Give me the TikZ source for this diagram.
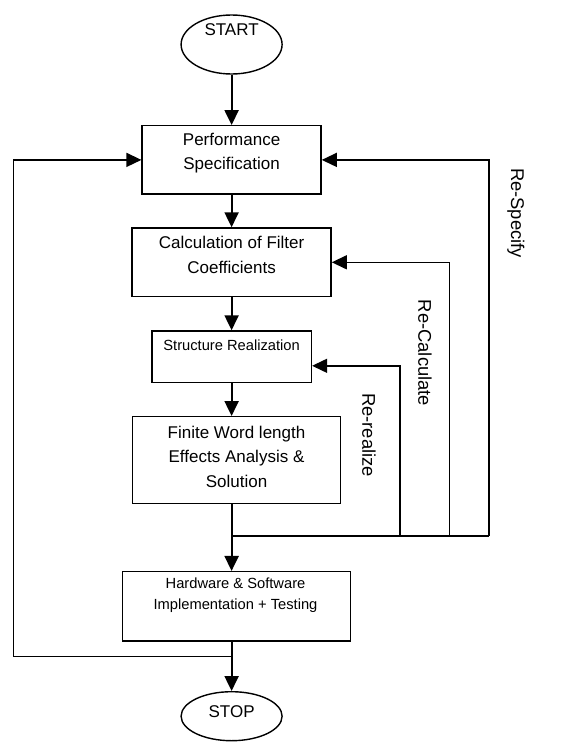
\documentclass[tikz,border=0pt]{standalone}
\usepackage{fontspec}
\setmainfont{Liberation Sans}
\usetikzlibrary{arrows.meta,shapes.geometric,calc}
\begin{document}
\begin{tikzpicture}[x=1pt,y=-1pt,
  box/.style={draw,line width=1.4pt,inner sep=0pt,rectangle},
  oval/.style={draw,line width=1.4pt,inner sep=0pt,ellipse},
  big/.style={font=\fontsize{17}{24.5}\selectfont,align=center,inner sep=0pt},
  small/.style={font=\fontsize{14.7}{21}\selectfont,align=center,inner sep=0pt},
  side/.style={font=\fontsize{18.4}{22}\selectfont,rotate=-90,inner sep=0pt},
  flow/.style={line width=2.2pt,-{Triangle[length=15pt,width=14pt]}},
  fb/.style={line width=1.4pt},
  fba/.style={line width=1.4pt,-{Triangle[length=15pt,width=14pt]}}]
\useasboundingbox (0,0) rectangle (565,742);
% shapes
\node[oval,minimum width=101pt,minimum height=59pt] (start) at (231.6,44.5) {};
\node[box,minimum width=179pt,minimum height=68.3pt] (perf) at (231.6,159.9) {};
\node[box,minimum width=199pt,minimum height=68.7pt] (calc) at (231.6,262.3) {};
\node[box,minimum width=159.6pt,minimum height=51.7pt] (struct) at (231.6,356.8) {};
\node[box,minimum width=208.4pt,minimum height=86.6pt] (fin) at (236.5,460) {};
\node[box,minimum width=228.4pt,minimum height=69.3pt] (hw) at (236.5,606.3) {};
\node[oval,minimum width=101pt,minimum height=49pt] (stop) at (231.6,716.2) {};
% texts
\node[big] (startT) at (231.6,29.5) {START};
\node[big] (perfT) at (231.6,153) {Performance\\Specification};
\node[big] (calcT) at (231.6,255) {Calculation of Filter\\Coefficients};
\node[small] (structT) at (231.6,345) {Structure Realization};
\node[big] (finT) at (236.5,456.7) {Finite Word length\\Effects Analysis \&\\Solution};
\node[small] (hwT) at (235.5,595.5) {Hardware \& Software\\Implementation + Testing};
\node[big] (stopT) at (231.6,712) {STOP};
\node[side] (lSpec) at (516,213) {Re-Specify};
\node[side] (lCalc) at (425,353) {Re-Calculate};
\node[side] (lReal) at (369,435) {Re-realize};
% junctions
\coordinate (j1) at (231.6,536);
\coordinate (j2) at (231.6,656.7);
\coordinate (c1) at (400,536);
\coordinate (c2) at (449.3,536);
\coordinate (c3) at (489,536);
\coordinate (c4) at (13.3,656.7);
\coordinate (sIn) at ([yshift=-9pt]struct.east);
% main flow
\draw[flow] (start) -- (perf);
\draw[flow] (perf) -- (calc);
\draw[flow] (calc) -- (struct);
\draw[flow] (struct) -- (struct |- fin.north);
\draw[flow] (fin.south -| j1) -- (hw.north -| j1);
\draw[flow] (hw.south -| j1) -- (stop);
% feedback
\draw[fb] (j1) -- (c3);
\draw[fba] (c1) |- (sIn);
\draw[fba] (c2) |- (calc.east);
\draw[fba] (c3) |- (perf.east);
\draw[fba] (j2) -- (c4) |- (perf.west);
\end{tikzpicture}
\end{document}
